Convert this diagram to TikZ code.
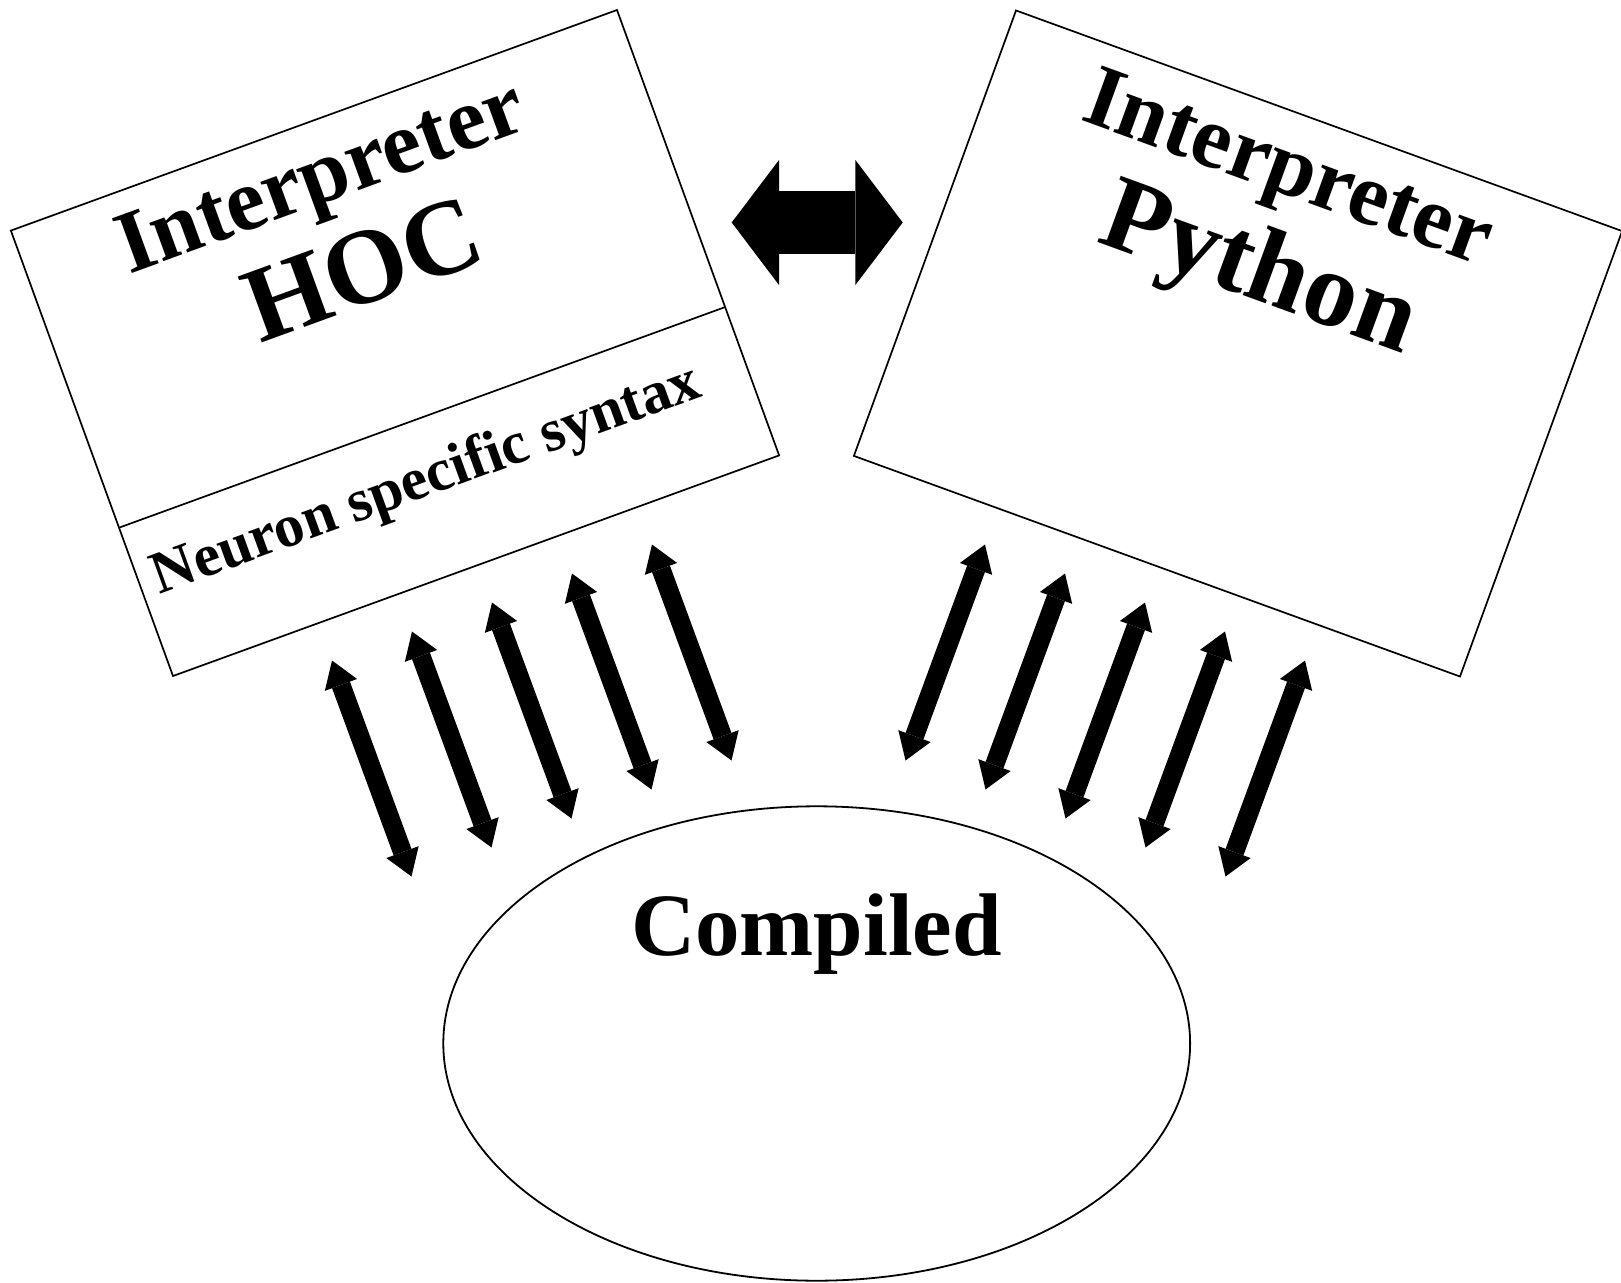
\documentclass[tikz,border=0pt]{standalone}
\usepackage{fontspec}
\setmainfont{Liberation Serif}
\usetikzlibrary{arrows.meta,shapes.geometric,calc}

\begin{document}
\begin{tikzpicture}[x=0.5pt, y=-0.5pt,
  frame/.style={draw, line width=0.85pt, inner sep=0pt, outer sep=0pt, minimum width=322.5pt, minimum height=237pt},
  big/.style={font=\bfseries\fontsize{53.5}{60}\selectfont, anchor=base, inner sep=0pt},
  small/.style={font=\bfseries\fontsize{44.4}{50}\selectfont, anchor=base, inner sep=0pt},
  call/.style={line width=9.5pt, {Triangle[length=13pt, width=17.2pt, line width=0pt]}-{Triangle[length=13pt, width=17.2pt, line width=0pt]}},
]
\useasboundingbox (0,0) rectangle (1621,1283);

% the two interpreters
\node[frame, rotate=20] (hoc) at (395,343) {};
\node[frame, rotate=-20] (py) at (1238,343.5) {};
\draw[line width=0.85pt] ($(hoc.north west)!0.667!(hoc.south west)$) -- ($(hoc.north east)!0.667!(hoc.south east)$);

\node[small, rotate=20] (hoctitle) at (330,201) {Interpreter};
\node[big, rotate=20] (hocname) at (374.6,301.5) {HOC};
\node[font=\bfseries\fontsize{30}{34}\selectfont, anchor=base, inner sep=0pt, rotate=20] (syntax) at (431.8,495.1) {Neuron specific syntax};
\node[small, rotate=-20] (pytitle) at (1280.1,192.8) {Interpreter};
\node[big, rotate=-20] (pyname) at (1249.4,297.6) {Python};

% compiled part
\node[draw, ellipse, line width=0.9pt, inner sep=0pt, minimum width=373.4pt, minimum height=237.2pt] (comp) at (816.7,1043.5) {};
\node[font=\bfseries\fontsize{44.5}{50}\selectfont, anchor=base, inner sep=0pt] (comptext) at (816.5,955) {Compiled};

% link between interpreters
\coordinate (lkL) at (731.7,222.5);
\coordinate (lkR) at (902.7,222.5);
\draw[line width=31.5pt, {Triangle[length=23.65pt, width=62.5pt, line width=0pt]}-{Triangle[length=23.65pt, width=62.5pt, line width=0pt]}] (lkL) -- (lkR);

% calls to compiled code
\foreach \i in {0,...,4} {
  \coordinate (ht\i) at ({332+80*\i},{660.5-29*\i});
  \coordinate (hb\i) at ({411.5+80*\i},{876.5-29*\i});
  \draw[call] (ht\i) -- (hb\i);
  \coordinate (pt\i) at ({985+80*\i},{544.5+29*\i});
  \coordinate (pb\i) at ({905.5+80*\i},{760.5+29*\i});
  \draw[call] (pt\i) -- (pb\i);
}
\end{tikzpicture}
\end{document}
